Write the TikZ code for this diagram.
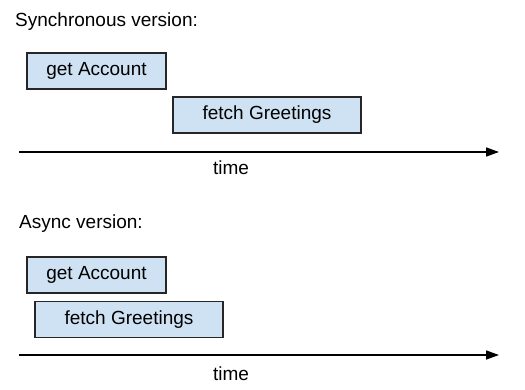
\documentclass[tikz,border=0pt]{standalone}
\usepackage{fontspec}
\setmainfont{Liberation Sans}
\usetikzlibrary{arrows.meta}
\definecolor{boxfill}{HTML}{CFE2F3}
\begin{document}
\begin{tikzpicture}[x=1pt,y=-1pt,
  every node/.style={font=\fontsize{19}{22}\selectfont},
  taskbox/.style={draw=black!85, line width=1.2pt, fill=boxfill, minimum height=36pt, inner sep=0pt},
  timeline/.style={line width=1.5pt, -{Triangle[length=13pt,width=9pt]}}]
\useasboundingbox (0,0) rectangle (525,390);
\fill[white] (0,0) rectangle (525,390);
% Synchronous
\node[anchor=base west, inner sep=0pt] (synct) at (15,27) {Synchronous version:};
\node[taskbox, minimum width=139pt] (sga) at (96.5,71) {get Account};
\node[taskbox, minimum width=188pt] (sfg) at (267,115) {fetch Greetings};
\coordinate (s0) at (19,152);
\coordinate (s1) at (499,152);
\draw[timeline] (s0) -- (s1);
\node[anchor=base, inner sep=0pt] (stime) at (231,175) {time};
% Async
\node[anchor=base west, inner sep=0pt] (asynct) at (19,229) {Async version:};
\node[taskbox, minimum width=139pt] (aga) at (96.5,275) {get Account};
\node[taskbox, minimum width=188pt] (afg) at (129,319.5) {fetch Greetings};
\coordinate (a0) at (19,355);
\coordinate (a1) at (499,355);
\draw[timeline] (a0) -- (a1);
\node[anchor=base, inner sep=0pt] (atime) at (231,380) {time};
\end{tikzpicture}
\end{document}
